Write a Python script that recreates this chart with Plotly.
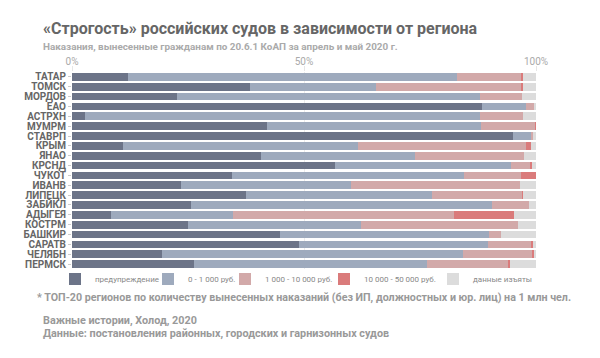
import plotly.graph_objects as go

regions = ["ТАТАР", "ТОМСК", "МОРДОВ", "ЕАО", "АСТРХН", "МУМРМ", "СТАВРП", "КРЫМ",
           "ЯНАО", "КРСНД", "ЧУКОТ", "ИВАНВ", "ЛИПЕЦК", "ЗАБЙКЛ", "АДЫГЕЯ", "КОСТРМ",
           "БАШКИР", "САРАТВ", "ЧЕЛЯБН", "ПЕРМСК"]

warning = [12.1, 38.3, 22.6, 88.4, 2.9, 42.0, 95.1, 11.0, 40.8, 56.7,
           34.4, 23.5, 37.5, 25.6, 8.5, 24.9, 44.9, 49.0, 19.4, 26.2]
fine_0_1k = [70.9, 27.2, 65.3, 9.5, 85.0, 46.1, 4.0, 50.6, 33.1, 37.9,
             50.0, 36.7, 40.0, 64.9, 26.2, 37.4, 44.9, 40.6, 64.8, 50.4]
fine_1k_10k = [13.8, 31.4, 9.1, 1.6, 9.3, 11.7, 0.2, 36.3, 23.5, 4.3,
               12.4, 36.4, 19.5, 8.0, 47.7, 33.8, 2.6, 9.5, 15.1, 17.4]
fine_10k_50k = [0.3, 0.2, 0.0, 0.0, 0.0, 0.2, 0.0, 1.1, 0.0, 0.3,
                3.2, 0.0, 0.1, 0.0, 12.9, 0.0, 0.0, 0.2, 0.2, 0.3]
withdrawn = [2.9, 2.9, 3.0, 0.5, 2.8, 0.0, 0.7, 1.0, 2.6, 0.8,
             0.0, 3.4, 2.9, 1.5, 4.7, 3.9, 7.6, 0.7, 0.5, 5.7]

series = [
    ("предупреждение", warning, "#6c7488"),
    ("0 - 1 000 руб.", fine_0_1k, "#9eaabd"),
    ("1 000 - 10 000 руб.", fine_1k_10k, "#d2a9a9"),
    ("10 000 - 50 000 руб.", fine_10k_50k, "#da7b7b"),
    ("данные изъяты", withdrawn, "#dcdcdc"),
]

tick_vals = [0, 50, 100]
tick_text = ["0%", "50%", "100%"]

W, H = 600, 358
ML, MR, MT, MB = 72, 64, 72, 89
PW, PH = W - ML - MR, H - MT - MB

# left pixel position of each legend swatch (layout only)
legend_px = [71, 164, 241, 340, 449]
legend_ids = ["legend", "legend2", "legend3", "legend4", "legend5"]

font_family = "Roboto, 'Noto Sans', sans-serif"

fig = go.Figure()
for (name, vals, color), lid in zip(series, legend_ids):
    fig.add_trace(go.Bar(
        y=regions, x=vals, name=name, orientation="h",
        marker=dict(color=color, line=dict(width=0)),
        hoverinfo="x+y+name", legend=lid,
    ))

legend_layout = {}
for lid, px in zip(legend_ids, legend_px):
    legend_layout[lid] = dict(
        orientation="h", x=(px - 16 - ML) / PW, xref="paper", xanchor="left",
        y=-(279 - (MT + PH)) / PH, yref="paper", yanchor="middle",
        font=dict(size=8, color="#888888", family=font_family),
        itemwidth=30, bgcolor="rgba(0,0,0,0)", borderwidth=0,
    )

fig.update_layout(
    width=W, height=H,
    barmode="stack", bargap=0.22,
    paper_bgcolor="white", plot_bgcolor="white",
    margin=dict(l=ML, r=MR, t=MT, b=MB, autoexpand=False),
    font=dict(family=font_family, color="#888"),
    xaxis=dict(
        side="top", range=[0, 100], tickmode="array", tickvals=tick_vals, ticktext=tick_text,
        showgrid=True, gridcolor="#ececec", gridwidth=1,
        ticks="outside", ticklen=5, tickcolor="#e6e6e6", ticklabelstandoff=-3,
        tickfont=dict(size=10, color="#aaaaaa"),
        zeroline=False, showline=False, fixedrange=True, automargin=False,
    ),
    yaxis=dict(
        autorange="reversed", tickmode="array", tickvals=regions, ticktext=regions,
        ticks="outside", ticklen=3, tickcolor="#cccccc",
        tickfont=dict(size=10, color="#666666", weight=700),
        showgrid=False, zeroline=False, showline=False, automargin=False,
    ),
    showlegend=True,
    **legend_layout,
)

anns = [
    ("«Строгость» российских судов в зависимости от региона", 41, 28, 16, "#666666"),
    ("Наказания, вынесенные гражданам по 20.6.1 КоАП за апрель и май 2020 г.", 41, 46, 9.9, "#aaaaaa"),
    ("* ТОП-20 регионов по количеству вынесенных наказаний (без ИП, должностных и юр. лиц) на 1 млн чел.", 35, 297, 10.7, "#999999"),
    ("Важные истории, Холод, 2020", 41, 320, 10.8, "#999999"),
    ("Данные: постановления районных, городских и гарнизонных судов", 41, 333, 10.8, "#999999"),
]
for text, px, py, size, color in anns:
    fig.add_annotation(
        text=text, xref="paper", yref="paper",
        x=(px - ML) / PW, y=1 - (py - MT) / PH,
        xanchor="left", yanchor="middle", showarrow=False,
        font=dict(size=size, color=color, weight=700, family=font_family),
    )

fig.write_html("out.html", config={"displayModeBar": False},
               post_script="document.body.style.margin='0px';")
